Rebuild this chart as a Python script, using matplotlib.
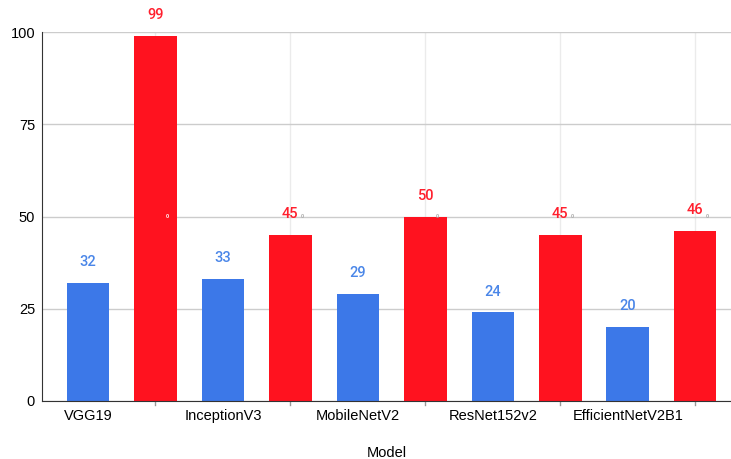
import matplotlib
matplotlib.use("Agg")
import matplotlib.pyplot as plt
import numpy as np

plt.rcParams['font.family'] = ['Liberation Sans', 'DejaVu Sans']

models = ["VGG19", "", "InceptionV3", "", "MobileNetV2", "", "ResNet152v2", "", "EfficientNetV2B1", ""]
values = [32, 99, 33, 45, 29, 50, 24, 45, 20, 46]
series = ["blue", "red", "blue", "red", "blue", "red", "blue", "red", "blue", "red"]
yticks = [0, 25, 50, 75, 100]
xlabel = "Model"

color_map = {"blue": "#3c78e8", "red": "#ff121f"}
label_color_map = {"blue": "#4a86e8", "red": "#ff1f2d"}

fig = plt.figure(figsize=(7.31, 4.59), dpi=100)
ax = fig.add_axes([0.0575, 0.1264, 0.9425, 0.8036])

x = np.arange(len(values))
cols = [color_map[s] for s in series]
ax.bar(x, values, width=0.63, color=cols, zorder=3)

for xi, v, s in zip(x, values, series):
    ax.annotate(str(v), (xi, v), xytext=(0, 15), textcoords='offset points',
                ha='center', va='center', fontsize=10.5, fontweight='medium',
                family=['Roboto', 'DejaVu Sans'],
                color=label_color_map[s], zorder=4)

# small stray "0" marks near the 50 line at the red positions
for xi, v, s in zip(x, values, series):
    if s == "red":
        c = "white" if v > 52 else "#aaaaaa"
        ax.text(xi + 0.18, 50, "0", fontsize=4, color=c, ha='center', va='center', zorder=5,
                fontweight='bold')

ax.set_ylim(0, 100)
ax.set_xlim(-0.68, 9.53)
ax.set_yticks(yticks)
ax.set_yticklabels([str(t) for t in yticks], fontsize=10.5)
ax.set_xticks(x)
ax.set_xticklabels(models, fontsize=10.5)
ax.tick_params(axis='y', length=0, pad=5)
ax.tick_params(axis='x', length=0, pad=6)

ax.grid(axis='y', color='#cccccc', linewidth=1, zorder=0)
for xi, s in zip(x, series):
    if s == "red":
        ax.axvline(xi, color='#ebebeb', linewidth=1, zorder=1)
        ax.plot([xi, xi], [0, -1.2], color='#999999', linewidth=1, clip_on=False, zorder=2)

for sp in ['top', 'right']:
    ax.spines[sp].set_visible(False)
ax.spines['left'].set_color('#333333')
ax.spines['bottom'].set_color('#333333')
ax.spines['left'].set_zorder(6)
ax.spines['bottom'].set_zorder(6)

ax.set_xlabel(xlabel, fontsize=10.5, labelpad=16)

fig.savefig("out.png", dpi=100)
